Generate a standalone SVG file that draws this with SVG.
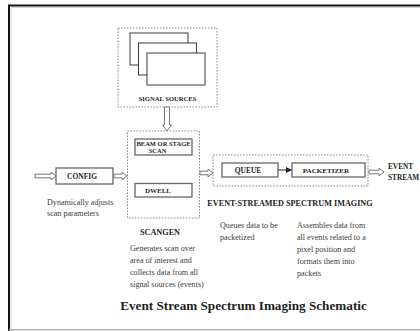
<svg xmlns="http://www.w3.org/2000/svg" width="420" height="331" viewBox="0 0 420 331">
  <style>
    .lbl { font-family: "Liberation Serif", "Times New Roman", serif; font-weight: bold; fill: #1e1e1e; }
    .desc { font-family: "Liberation Serif", "Times New Roman", serif; font-size: 8.1px; fill: #3a3a3a; }
    .group { fill: none; stroke: #8a8a8a; stroke-width: 1; stroke-dasharray: 1.6 1.4; }
    .box { fill: #fff; stroke: #666; stroke-width: 1.3; }
    .sheet { fill: #fff; stroke: #3a3a3a; stroke-width: 1; }
    .hollow { fill: #fff; stroke: #777; stroke-width: 1; stroke-linejoin: miter; }
    .solid { fill: none; stroke: #333; stroke-width: 1.1; }
  </style>
  <defs>
    <marker id="head" markerWidth="6" markerHeight="6" refX="5" refY="3" orient="auto" markerUnits="userSpaceOnUse">
      <path d="M0,0 L6,3 L0,6 Z" fill="#222"/>
    </marker>
  </defs>

  <!-- page frame -->
  <rect x="0" y="0" width="420" height="331" fill="#fff"/>
  <path d="M11,331 V7.5 H420" fill="none" stroke="#d4d4d4" stroke-width="1"/>
  <path d="M9,331 V5.5 H420" fill="none" stroke="#141414" stroke-width="2"/>
  <line x1="9" y1="329.8" x2="420" y2="329.8" stroke="#b4b4b4" stroke-width="1.4"/>

  <!-- signal sources -->
  <g id="signal-sources">
    <rect class="group" x="118" y="28" width="99" height="79"/>
    <rect class="sheet" x="130" y="33" width="58" height="32"/>
    <rect class="sheet" x="138.5" y="43" width="58" height="32"/>
    <rect class="sheet" x="147" y="53" width="58" height="32"/>
    <text class="lbl" x="167.5" y="101" font-size="6.6" text-anchor="middle">SIGNAL SOURCES</text>
  </g>

  <!-- config -->
  <g id="config">
    <rect class="box" x="56" y="168" width="57" height="16"/>
    <text class="lbl" x="82" y="179" font-size="7.5" text-anchor="middle">CONFIG</text>
    <text class="desc" x="47" y="204.5">Dynamically adjusts</text>
    <text class="desc" x="47" y="215.5">scan parameters</text>
  </g>

  <!-- scangen -->
  <g id="scangen">
    <rect class="group" x="127.5" y="131" width="72" height="87"/>
    <rect class="box" x="135" y="139" width="57" height="16"/>
    <text class="lbl" x="163.5" y="145.5" font-size="6.5" text-anchor="middle">BEAM OR STAGE</text>
    <text class="lbl" x="157.5" y="153.3" font-size="6.5" text-anchor="middle">SCAN</text>
    <rect class="box" x="135" y="183.5" width="57" height="13.5"/>
    <text class="lbl" x="158" y="192.8" font-size="7" text-anchor="middle">DWELL</text>
    <text class="lbl" x="160" y="235" font-size="8.2" text-anchor="middle">SCANGEN</text>
    <text class="desc" x="130" y="251">Generates scan over</text>
    <text class="desc" x="130" y="263">area of interest and</text>
    <text class="desc" x="130" y="275">collects data from all</text>
    <text class="desc" x="130" y="287">signal sources (events)</text>
  </g>

  <!-- event-streamed spectrum imaging -->
  <g id="event-streamed">
    <rect class="group" x="213" y="155" width="155" height="31"/>
    <text class="lbl" x="290" y="205.5" font-size="8.2" text-anchor="middle">EVENT-STREAMED SPECTRUM IMAGING</text>
  </g>

  <g id="queue">
    <rect class="box" x="222" y="163" width="56" height="14"/>
    <text class="lbl" x="248" y="172.8" font-size="7.5" text-anchor="middle">QUEUE</text>
    <text class="desc" x="220" y="227.5">Queues data to be</text>
    <text class="desc" x="220" y="239.5">packetized</text>
  </g>

  <g id="packetizer">
    <rect class="box" x="292" y="163" width="73" height="14"/>
    <text class="lbl" x="326" y="172.8" font-size="7.1" text-anchor="middle">PACKETIZER</text>
    <text class="desc" x="297" y="227.5">Assembles data from</text>
    <text class="desc" x="297" y="239.5">all events related to a</text>
    <text class="desc" x="297" y="251.5">pixel position and</text>
    <text class="desc" x="297" y="263.5">formats them into</text>
    <text class="desc" x="297" y="275.5">packets</text>
  </g>

  <g id="event-stream">
    <text class="lbl" x="388" y="168.5" font-size="7.3">EVENT</text>
    <text class="lbl" x="388" y="180" font-size="7.3">STREAM</text>
  </g>

  <!-- connectors -->
  <g id="connectors">
    <path class="hollow" d="M164.5,107 V125 H162.5 L167,131 L171.5,125 H169.5 V107 Z"/>
    <path class="hollow" d="M35,174.2 H51 V172.2 L56,176 L51,179.8 V177.8 H35 Z"/>
    <path class="hollow" d="M114,174.2 H122 V172.2 L127,176 L122,179.8 V177.8 H114 Z"/>
    <path class="hollow" d="M200,171.2 H208 V169.2 L213,173 L208,176.8 V174.8 H200 Z"/>
    <path class="hollow" d="M369,170.2 H379 V168.2 L384,172 L379,175.8 V173.8 H369 Z"/>
    <line class="solid" x1="278" y1="170" x2="291" y2="170" marker-end="url(#head)"/>
  </g>

  <!-- title -->
  <text class="lbl" x="243.5" y="309.5" font-size="13.2" text-anchor="middle">Event Stream Spectrum Imaging Schematic</text>
</svg>
